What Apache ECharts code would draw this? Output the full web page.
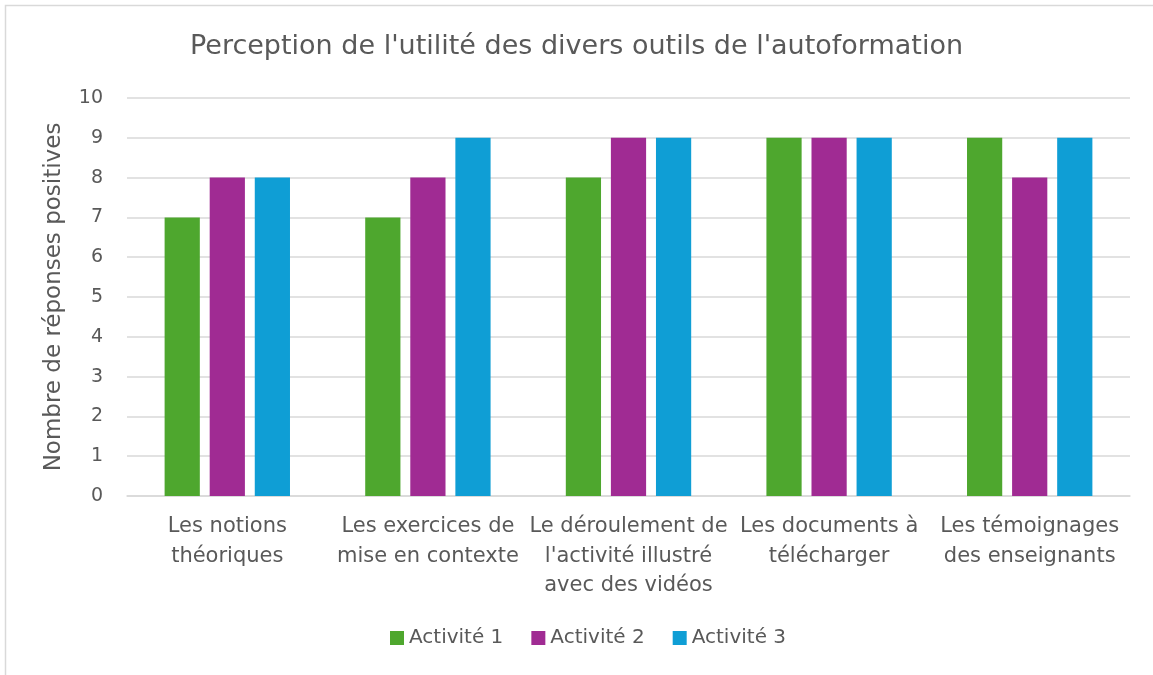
<!DOCTYPE html>
<html>
<head>
<meta charset="utf-8">
<script src="https://cdn.jsdelivr.net/npm/echarts@6/dist/echarts.min.js"></script>
<style>
html,body{margin:0;padding:0;background:#fff;}
#chart{width:1153px;height:675px;}
</style>
</head>
<body>
<div id="chart"></div>
<script>
const categories = [
  "Les notions\nthéoriques",
  "Les exercices de\nmise en contexte",
  "Le déroulement de\nl'activité illustré\navec des vidéos",
  "Les documents à\ntélécharger",
  "Les témoignages\ndes enseignants"
];
const activite1 = [7, 7, 8, 9, 9];
const activite2 = [8, 8, 9, 9, 8];
const activite3 = [8, 9, 9, 9, 9];
const seriesNames = ["Activité 1", "Activité 2", "Activité 3"];
const colors = ["#4EA72E", "#A02B93", "#0F9ED5"];
const titleText = "Perception de l'utilité des divers outils de l'autoformation";
const yName = "Nombre de réponses positives";

const FONT = "'DejaVu Sans', sans-serif";
const TXT = "#595959";
const chart = echarts.init(document.getElementById('chart'), null, {renderer: 'canvas'});
const dataSets = [activite1, activite2, activite3];
chart.setOption({
  animation: false,
  backgroundColor: '#fff',
  graphic: [{
    type: 'rect', silent: true, z: -1,
    shape: {x: 5.5, y: 5.5, width: 1200, height: 720},
    style: {fill: 'none', stroke: '#D9D9D9', lineWidth: 1.5}
  }],
  title: {
    text: titleText, left: 'center', top: 28,
    textStyle: {fontFamily: FONT, fontSize: 27, fontWeight: 'normal', color: TXT}
  },
  legend: {
    bottom: 22, left: 385, itemWidth: 14, itemHeight: 14, itemGap: 28,
    icon: 'rect',
    textStyle: {fontFamily: FONT, fontSize: 20, color: TXT},
    data: seriesNames
  },
  grid: {left: 127, right: 23, top: 98, bottom: 179, containLabel: false},
  xAxis: {
    type: 'category', data: categories,
    axisLine: {lineStyle: {color: '#D9D9D9', width: 1.5}},
    axisTick: {show: false},
    axisLabel: {fontFamily: FONT, fontSize: 21, color: TXT, lineHeight: 29.5, margin: 16, interval: 0}
  },
  yAxis: {
    type: 'value', min: 0, max: 10, interval: 1,
    name: yName, nameLocation: 'middle', nameGap: 61,
    nameTextStyle: {fontFamily: FONT, fontSize: 23, color: TXT},
    axisLine: {show: false}, axisTick: {show: false},
    axisLabel: {fontFamily: FONT, fontSize: 19, color: TXT, margin: 24},
    splitLine: {lineStyle: {color: '#D9D9D9', width: 1.5}}
  },
  series: seriesNames.map((n, i) => ({
    name: n, type: 'bar', data: dataSets[i],
    barGap: '28%', barCategoryGap: '37.5%',
    itemStyle: {color: colors[i]}
  }))
});
</script>
</body>
</html>
